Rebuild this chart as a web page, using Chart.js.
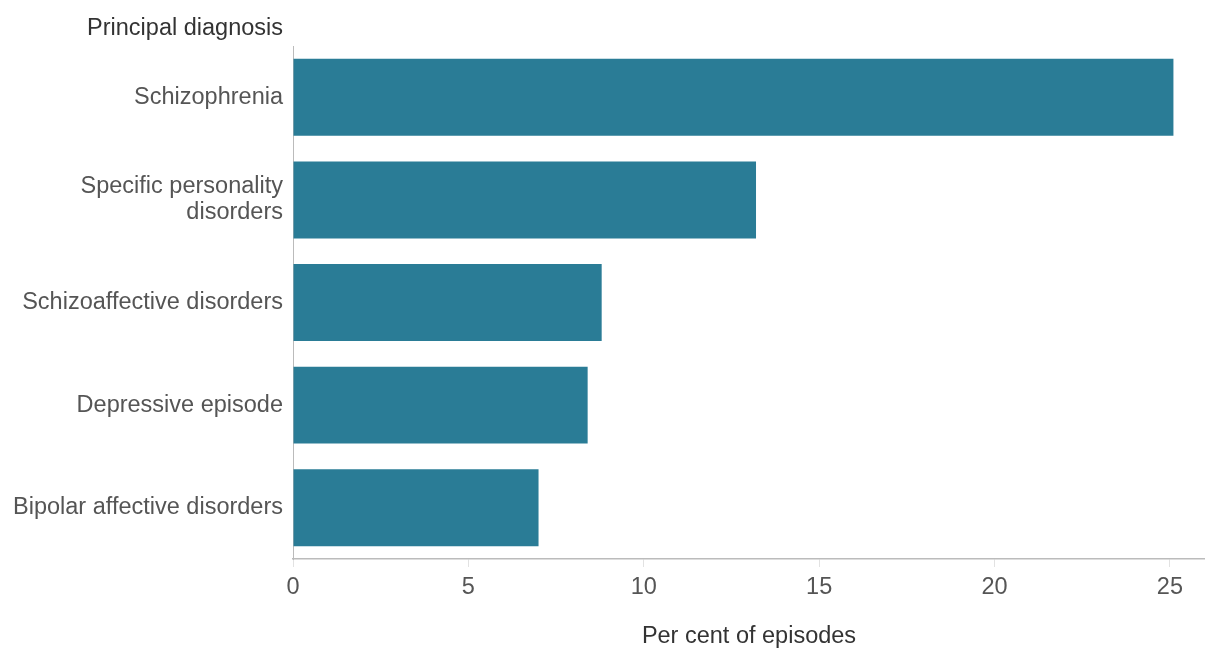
<!DOCTYPE html>
<html>
<head>
<meta charset="utf-8">
<script src="https://cdn.jsdelivr.net/npm/chart.js"></script>
<style>
  html, body { margin: 0; padding: 0; background: #fff; }
  #wrap { width: 1205px; height: 649px; position: relative; }
</style>
</head>
<body>
<div id="wrap"><canvas id="chart"></canvas></div>
<script>
// diagnoses, top to bottom
const categories = [
    'Schizophrenia',
    ['Specific personality', 'disorders'],
    'Schizoaffective disorders',
    'Depressive episode',
    'Bipolar affective disorders',
];
// per cent of episodes
const values = [25.1, 13.2, 8.8, 8.4, 7.0];
const xTicks = [0, 5, 10, 15, 20, 25];

const FONT = '"Liberation Sans", Arial, sans-serif';
const SIZE = 23.5;
const BAR = '#2a7c96';

// "Principal diagnosis" heading above the category labels
const headingPlugin = {
    id: 'heading',
    afterDraw(chart) {
        const ctx = chart.ctx;
        const y = chart.scales.y;
        ctx.save();
        ctx.font = `${SIZE}px ${FONT}`;
        ctx.fillStyle = '#333';
        ctx.textAlign = 'right';
        ctx.textBaseline = 'middle';
        ctx.fillText('Principal diagnosis', y.right - 10, 29);
        ctx.restore();
    },
};

new Chart(document.getElementById('chart').getContext('2d'), {
    type: 'bar',
    data: {
        labels: categories,
        datasets: [{
            data: values,
            backgroundColor: BAR,
            borderWidth: 0,
            categoryPercentage: 1,
            barPercentage: 0.75,
        }],
    },
    options: {
        indexAxis: 'y',
        responsive: true,
        maintainAspectRatio: false,
        animation: false,
        layout: { padding: { top: 46, right: 0, left: 0, bottom: 0 } },
        plugins: {
            legend: { display: false },
            tooltip: { enabled: false },
        },
        scales: {
            x: {
                min: 0,
                max: 26,
                afterBuildTicks: (s) => { s.ticks = xTicks.map(v => ({ value: v })); },
                afterFit: (s) => { s.height = 90; },
                border: { display: true, color: '#bbb', width: 1.5 },
                grid: { drawOnChartArea: false, drawTicks: true, tickLength: 8, color: '#e2e2e2' },
                ticks: { font: { family: FONT, size: SIZE, lineHeight: 1.1 }, color: '#555', padding: 8 },
                title: {
                    display: true,
                    text: 'Per cent of episodes',
                    font: { family: FONT, size: SIZE, lineHeight: 1.1 },
                    color: '#333',
                    padding: { top: 0, bottom: 0 },
                },
            },
            y: {
                afterFit: (s) => { s.width = 293; },
                border: { display: true, color: '#bbb', width: 1 },
                grid: { display: false },
                ticks: { font: { family: FONT, size: SIZE, lineHeight: 1.1 }, color: '#555', padding: 2 },
            },
        },
    },
    plugins: [headingPlugin],
});
</script>
</body>
</html>
